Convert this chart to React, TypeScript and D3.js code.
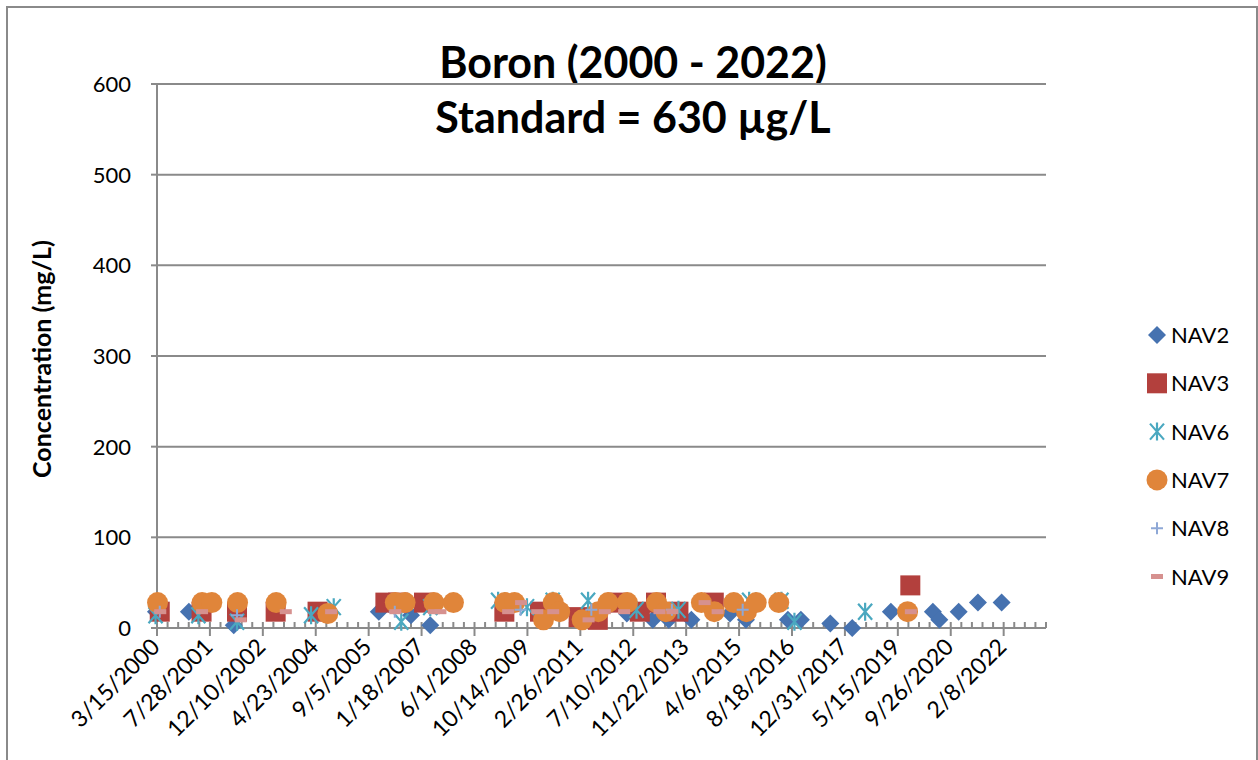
import React from "react";
import * as d3 from "d3";

type Pt = [string, number];

const titleLines = ["Boron (2000 - 2022)", "Standard = 630 µg/L"];
const yLabel = "Concentration (mg/L)";
const yTicks = [0, 100, 200, 300, 400, 500, 600];
const xStart = "2000-03-15";
const xEnd = "2023-03-15";
const majorDays = 500;
const minorDays = 100;

const nav2: Pt[] = [
  ["2000-03-05", 18], ["2001-01-10", 18], ["2002-03-10", 3], ["2005-12-10", 18],
  ["2006-10-10", 14], ["2007-04-10", 3], ["2012-05-10", 16], ["2013-01-10", 9],
  ["2013-06-10", 9], ["2014-01-10", 9], ["2015-01-10", 16], ["2015-06-10", 9],
  ["2016-07-10", 9], ["2016-11-10", 9], ["2017-08-15", 5], ["2018-03-10", 0],
  ["2019-03-10", 18], ["2020-04-10", 18], ["2020-06-10", 9], ["2020-12-10", 18],
  ["2021-06-10", 28], ["2022-01-20", 28],
];
const nav3: Pt[] = [
  ["2000-04-10", 18], ["2001-05-10", 18], ["2002-04-10", 18], ["2003-04-10", 18],
  ["2004-05-10", 18], ["2006-02-10", 28], ["2006-06-10", 28], ["2007-02-10", 28],
  ["2009-03-10", 18], ["2010-02-10", 18], ["2011-02-10", 12], ["2011-08-10", 9],
  ["2012-02-10", 28], ["2012-09-10", 18], ["2013-02-10", 28], ["2013-09-10", 18],
  ["2014-08-10", 28], ["2019-09-10", 47],
];
const nav6: Pt[] = [
  ["2000-03-01", 14], ["2001-04-10", 14], ["2002-04-10", 7], ["2004-03-10", 14],
  ["2004-10-10", 23], ["2006-07-10", 7], ["2007-04-10", 23], ["2009-01-10", 30],
  ["2009-10-10", 23], ["2010-06-10", 30], ["2011-05-10", 30], ["2012-08-10", 20],
  ["2013-09-10", 20], ["2015-07-10", 30], ["2016-05-10", 30], ["2016-09-10", 7],
  ["2018-07-10", 18],
];
const nav7: Pt[] = [
  ["2000-03-20", 28], ["2001-05-15", 28], ["2001-08-15", 28], ["2002-04-15", 28],
  ["2003-04-15", 28], ["2004-08-15", 16], ["2006-05-15", 28], ["2006-08-15", 28],
  ["2007-05-15", 28], ["2007-11-15", 28], ["2009-03-15", 28], ["2009-06-15", 28],
  ["2010-03-15", 9], ["2010-06-15", 28], ["2010-08-15", 18], ["2011-03-15", 9],
  ["2011-08-15", 18], ["2011-11-15", 28], ["2012-05-15", 28], ["2013-02-15", 28],
  ["2013-05-15", 18], ["2014-04-15", 28], ["2014-08-15", 18], ["2015-02-15", 28],
  ["2015-06-15", 18], ["2015-09-15", 28], ["2016-04-15", 28], ["2019-08-15", 18],
];
const nav8: Pt[] = [
  ["2000-04-10", 18], ["2002-04-10", 14], ["2006-05-10", 18], ["2009-08-10", 20],
  ["2011-06-10", 20], ["2013-07-10", 20], ["2015-05-10", 20],
];
const nav9: Pt[] = [
  ["2000-04-15", 18], ["2001-05-15", 18], ["2002-05-15", 9], ["2003-07-15", 18],
  ["2004-09-15", 18], ["2006-05-15", 18], ["2007-05-15", 18], ["2007-07-15", 18],
  ["2009-04-15", 18], ["2009-08-15", 28], ["2010-01-15", 18], ["2010-06-15", 18],
  ["2011-05-15", 9], ["2011-10-15", 18], ["2012-04-15", 18], ["2013-03-15", 18],
  ["2013-07-15", 18], ["2014-05-15", 28], ["2014-09-15", 18], ["2019-09-15", 18],
];

const seriesNames = ["NAV2", "NAV3", "NAV6", "NAV7", "NAV8", "NAV9"];
const seriesData = [nav2, nav3, nav6, nav7, nav8, nav9];
const seriesColors = ["#4672B0", "#B3403D", "#4AA8C0", "#E0853A", "#8EA8D6", "#D6918F"];
const seriesShapes = ["diamond", "square", "star", "circle", "plus", "dash"];

const parse = (s: string) => {
  const [y, m, d] = s.split("-").map(Number);
  return new Date(Date.UTC(y, m - 1, d));
};
const DAY = 86400000;

function Marker({ shape, color, x, y }: { shape: string; color: string; x: number; y: number }) {
  switch (shape) {
    case "diamond":
      return <path d={`M${x},${y - 9}L${x + 9},${y}L${x},${y + 9}L${x - 9},${y}Z`} fill={color} />;
    case "square":
      return <rect x={x - 10} y={y - 10} width={20} height={20} fill={color} />;
    case "star":
      return (
        <path
          d={`M${x - 7},${y - 8}L${x + 7},${y + 8}M${x + 7},${y - 8}L${x - 7},${y + 8}M${x},${y - 9}L${x},${y + 9}`}
          stroke={color}
          strokeWidth={2.2}
          fill="none"
        />
      );
    case "circle":
      return <circle cx={x} cy={y} r={10.5} fill={color} />;
    case "plus":
      return (
        <path d={`M${x - 6},${y}L${x + 6},${y}M${x},${y - 6}L${x},${y + 6}`} stroke={color} strokeWidth={2} />
      );
    case "dash":
      return <rect x={x - 6} y={y - 2.5} width={12} height={5} fill={color} />;
  }
  return null;
}

export default function App() {
  const W = 1258;
  const H = 760;
  const left = 157, right = 1046, top = 84, bottom = 628;
  const t0 = parse(xStart);
  const t1 = parse(xEnd);
  const x = d3.scaleUtc().domain([t0, t1]).range([left, right]);
  const y = d3.scaleLinear().domain([0, 600]).range([bottom, top]);

  const majors: Date[] = [];
  for (let t = t0.getTime(); t <= t1.getTime(); t += majorDays * DAY) majors.push(new Date(t));
  const minors: Date[] = [];
  for (let t = t0.getTime(); t <= t1.getTime() + 1; t += minorDays * DAY) minors.push(new Date(t));
  const fmt = (d: Date) => `${d.getUTCMonth() + 1}/${d.getUTCDate()}/${d.getUTCFullYear()}`;

  const font = "Lato, 'Open Sans', sans-serif";
  const grid = "#8a8a8a";

  return (
    <svg width={W} height={H} style={{ position: "absolute", left: 0, top: 0 }} fontFamily={font}>
      <rect x={0} y={0} width={W} height={H} fill="#fff" />
      <rect x={7} y={7} width={1250} height={H + 20} fill="none" stroke="#8a8a8a" strokeWidth={2} />
      {titleLines.map((t, i) => (
        <text key={t} x={633} y={78 + i * 55} textAnchor="middle" fontSize={43} fontWeight={700} fill="#000">
          {t}
        </text>
      ))}
      {yTicks.map((v) => (
        <g key={v}>
          <line x1={left} x2={right} y1={y(v)} y2={y(v)} stroke={grid} strokeWidth={2} />
          <line x1={left - 6} x2={left} y1={y(v)} y2={y(v)} stroke={grid} strokeWidth={2} />
          <text x={131} y={y(v) + 8} textAnchor="end" fontSize={22} fill="#000">
            {v}
          </text>
        </g>
      ))}
      <line x1={left} x2={left} y1={top} y2={bottom} stroke={grid} strokeWidth={2} />
      {minors.map((d, i) => (
        <line key={i} x1={x(d)} x2={x(d)} y1={bottom - 6} y2={bottom} stroke={grid} strokeWidth={2} />
      ))}
      {majors.map((d, i) => (
        <g key={i}>
          <line x1={x(d)} x2={x(d)} y1={bottom} y2={bottom + 8} stroke={grid} strokeWidth={2} />
          <text
            transform={`translate(${x(d) - 8},${bottom + 8}) rotate(-45)`}
            textAnchor="end"
            fontSize={23}
            dy="0.75em"
            fill="#000"
          >
            {fmt(d)}
          </text>
        </g>
      ))}
      <line x1={left} x2={right} y1={bottom} y2={bottom} stroke={grid} strokeWidth={2} />
      <text
        transform={`translate(51,${(top + bottom) / 2 + 3}) rotate(-90)`}
        textAnchor="middle"
        fontSize={25}
        fontWeight={700}
        fill="#000"
      >
        {yLabel}
      </text>
      {seriesData.map((data, si) => (
        <g key={si}>
          {data.map(([d, v], i) => (
            <Marker key={i} shape={seriesShapes[si]} color={seriesColors[si]} x={x(parse(d))} y={y(v)} />
          ))}
        </g>
      ))}
      {seriesNames.map((n, i) => {
        const ly = 335 + i * 48.3;
        return (
          <g key={n}>
            <Marker shape={seriesShapes[i]} color={seriesColors[i]} x={1157} y={ly} />
            <text x={1171} y={ly + 8} fontSize={22} fill="#000">
              {n}
            </text>
          </g>
        );
      })}
    </svg>
  );
}
